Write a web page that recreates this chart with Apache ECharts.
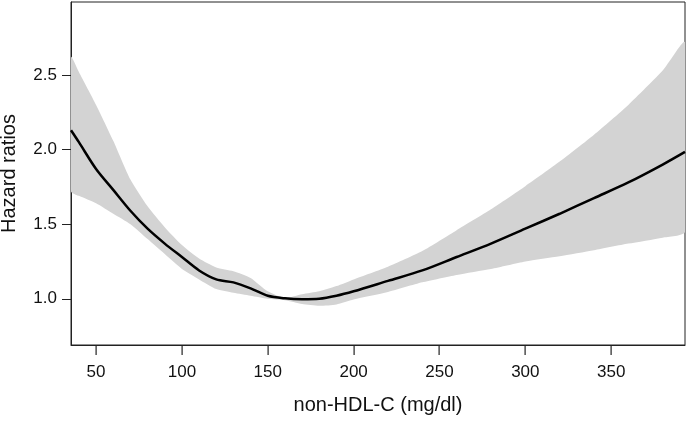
<!DOCTYPE html>
<html>
<head>
<meta charset="utf-8">
<script src="https://cdn.jsdelivr.net/npm/echarts@6/dist/echarts.min.js"></script>
<style>html,body{margin:0;padding:0;background:#fff}#c{width:688px;height:421px}</style>
</head>
<body>
<div id="c"></div>
<script>
var xValues = [35.4, 40, 50, 60, 70, 80, 90, 100, 110, 120, 130, 140, 150, 160, 170, 180, 190, 200, 220, 240, 260, 280, 300, 320, 340, 360, 380, 393];
var hazard  = [2.13, 2.05, 1.87, 1.73, 1.59, 1.47, 1.37, 1.28, 1.19, 1.13, 1.11, 1.07, 1.02, 1.003, 0.997, 1.00, 1.02, 1.05, 1.12, 1.19, 1.28, 1.37, 1.47, 1.57, 1.675, 1.78, 1.90, 1.985];
var upperCI = [2.62, 2.52, 2.30, 2.06, 1.80, 1.62, 1.48, 1.36, 1.27, 1.21, 1.185, 1.14, 1.05, 1.005, 1.03, 1.05, 1.085, 1.13, 1.215, 1.32, 1.46, 1.60, 1.755, 1.92, 2.10, 2.30, 2.53, 2.72];
var lowerCI = [1.72, 1.69, 1.64, 1.57, 1.50, 1.40, 1.30, 1.20, 1.13, 1.065, 1.04, 1.02, 1.0, 0.99, 0.965, 0.953, 0.962, 0.995, 1.045, 1.11, 1.16, 1.20, 1.25, 1.285, 1.325, 1.37, 1.41, 1.45];
var xTicks = [50, 100, 150, 200, 250, 300, 350];
var yTicks = [1.0, 1.5, 2.0, 2.5];

var chart = echarts.init(document.getElementById('c'), null, {renderer: 'canvas'});
var font = 'Liberation Sans, Arial, sans-serif';
var axisColor = '#222';
var yMin = 0.69;

chart.setOption({
  animation: false,
  grid: {left: 71, right: 3, top: 2, bottom: 76, containLabel: false, outerBoundsMode: 'none',
    show: true, borderColor: axisColor, borderWidth: 1, backgroundColor: 'transparent'},
  xAxis: {
    type: 'value', min: 35.4, max: 393,
    name: 'non-HDL-C (mg/dl)', nameLocation: 'middle', nameGap: 50,
    nameTextStyle: {fontFamily: font, fontSize: 20, color: '#111'},
    axisLine: {show: true, onZero: false, lineStyle: {color: axisColor, width: 1}},
    axisTick: {show: false},
    axisLabel: {customValues: xTicks, margin: 19, fontFamily: font, fontSize: 17, color: '#111'},
    splitLine: {show: false}
  },
  yAxis: {
    type: 'value', min: yMin, max: 2.99,
    name: 'Hazard ratios', nameLocation: 'middle', nameGap: 52, nameRotate: 90,
    nameTextStyle: {fontFamily: font, fontSize: 20, color: '#111'},
    axisLine: {show: true, onZero: false, lineStyle: {color: axisColor, width: 1}},
    axisTick: {show: true, inside: false, length: 9, customValues: yTicks, lineStyle: {color: axisColor, width: 1}},
    axisLabel: {customValues: yTicks, margin: 14, fontFamily: font, fontSize: 17, color: '#111',
      formatter: function (v) { return Number(v).toFixed(1); }},
    splitLine: {show: false}
  },
  series: [
    {
      type: 'custom',
      data: [[0, 0]],
      clip: true,
      silent: true,
      z: 1,
      renderItem: function (params, api) {
        var pts = [];
        for (var i = 0; i < xValues.length; i++) pts.push(api.coord([xValues[i], upperCI[i]]));
        for (var j = xValues.length - 1; j >= 0; j--) pts.push(api.coord([xValues[j], lowerCI[j]]));
        return {
          type: 'polygon',
          shape: {points: pts, smooth: 0.2},
          style: {fill: '#d3d3d3', stroke: null}
        };
      }
    },
    {
      type: 'line',
      data: xValues.map(function (x, i) { return [x, hazard[i]]; }),
      showSymbol: false,
      smooth: 0.3,
      z: 3,
      lineStyle: {color: '#000', width: 2.5}
    }
  ]
});

// x-axis tick marks (outward), positioned through the chart's own axis scale
var tickGraphics = xTicks.map(function (v) {
  var p = chart.convertToPixel({gridIndex: 0}, [v, yMin]);
  var x = Math.round(p[0]);
  var y = Math.round(p[1]);
  return {
    type: 'rect',
    silent: true,
    zlevel: 1,
    z: 100,
    shape: {x: x - 0.5, y: y, width: 1.2, height: 10},
    style: {fill: axisColor}
  };
});
chart.setOption({graphic: {elements: tickGraphics}});
</script>
</body>
</html>
